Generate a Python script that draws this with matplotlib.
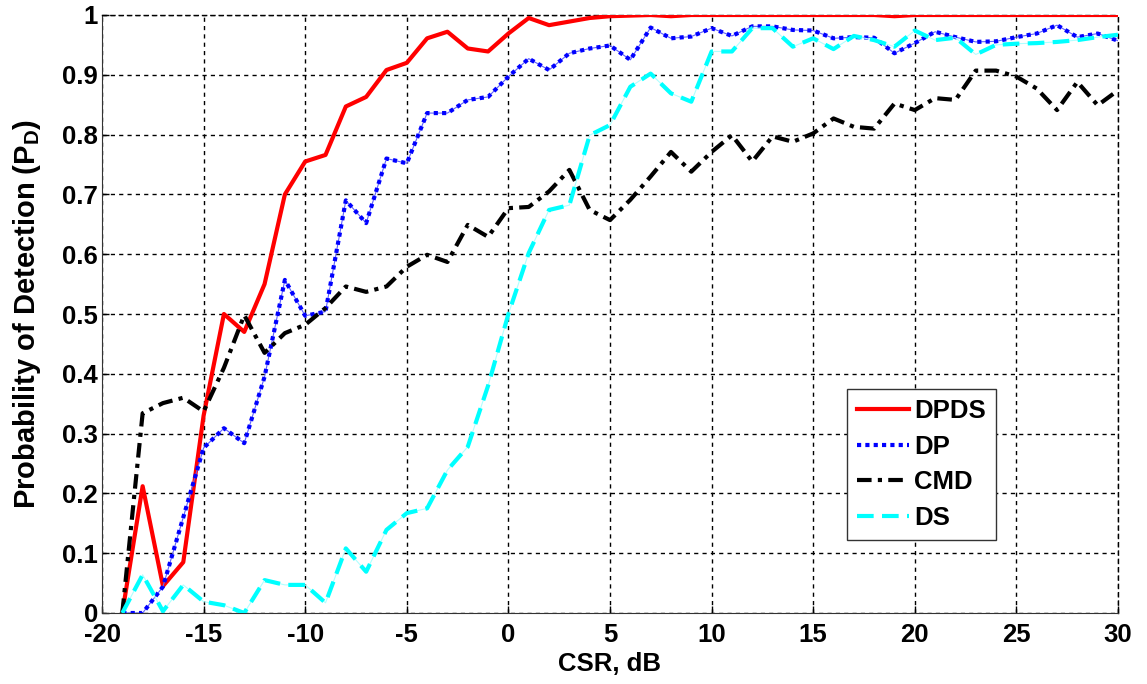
import numpy as np
import matplotlib
matplotlib.use("Agg")
import matplotlib.pyplot as plt

plt.rcParams['font.family'] = ['Liberation Sans', 'DejaVu Sans']
plt.rcParams['font.weight'] = 'bold'
plt.rcParams['axes.labelweight'] = 'bold'
plt.rcParams['axes.unicode_minus'] = False
plt.rcParams['mathtext.fontset'] = 'custom'
plt.rcParams['mathtext.bf'] = 'Liberation Sans:bold'
plt.rcParams['mathtext.rm'] = 'Liberation Sans:bold'

# CSR axis (dB)
csr = list(range(-19, 31))

# Probability of detection
pd_dpds = [0.0, 0.212, 0.045, 0.085, 0.33, 0.50, 0.47, 0.55, 0.70, 0.755,
           0.766, 0.847, 0.863, 0.908, 0.92, 0.961, 0.972, 0.944, 0.939, 0.969,
           0.995, 0.983, 0.989, 0.995, 0.998, 0.999, 1.0, 0.998, 1.0, 1.0,
           1.0, 1.0, 1.0, 1.0, 1.0, 1.0, 1.0, 1.0, 0.998, 1.0,
           1.0, 1.0, 1.0, 1.0, 1.0, 1.0, 1.0, 1.0, 1.0, 1.0]
pd_dp = [0.0, 0.0, 0.044, 0.16, 0.276, 0.309, 0.284, 0.395, 0.557, 0.497,
         0.504, 0.69, 0.652, 0.76, 0.752, 0.836, 0.836, 0.858, 0.863, 0.897,
         0.927, 0.908, 0.936, 0.944, 0.949, 0.925, 0.979, 0.961, 0.964, 0.978,
         0.965, 0.981, 0.981, 0.975, 0.974, 0.961, 0.963, 0.962, 0.936, 0.953,
         0.972, 0.963, 0.955, 0.956, 0.963, 0.969, 0.983, 0.963, 0.969, 0.957]
pd_cmd = [0.0, 0.334, 0.351, 0.36, 0.337, 0.41, 0.498, 0.435, 0.468, 0.482,
          0.51, 0.546, 0.537, 0.546, 0.579, 0.599, 0.587, 0.649, 0.629, 0.677,
          0.679, 0.705, 0.741, 0.674, 0.657, 0.691, 0.730, 0.771, 0.738, 0.771,
          0.799, 0.755, 0.797, 0.788, 0.802, 0.827, 0.813, 0.810, 0.852, 0.841,
          0.861, 0.858, 0.907, 0.907, 0.897, 0.877, 0.841, 0.888, 0.849, 0.874]
pd_ds = [0.0, 0.064, 0.003, 0.047, 0.019, 0.013, 0.0, 0.055, 0.047, 0.047,
         0.017, 0.108, 0.069, 0.139, 0.167, 0.175, 0.239, 0.278, 0.38, 0.50,
         0.602, 0.674, 0.682, 0.799, 0.816, 0.880, 0.902, 0.869, 0.855, 0.939,
         0.939, 0.978, 0.978, 0.947, 0.961, 0.943, 0.965, 0.958, 0.947, 0.974,
         0.958, 0.962, 0.934, 0.950, 0.952, 0.953, 0.955, 0.958, 0.963, 0.967]

xticks = [-20, -15, -10, -5, 0, 5, 10, 15, 20, 25, 30]
yticks = [0, 0.1, 0.2, 0.3, 0.4, 0.5, 0.6, 0.7, 0.8, 0.9, 1]
ytick_labels = ['0', '0.1', '0.2', '0.3', '0.4', '0.5', '0.6', '0.7', '0.8', '0.9', '1']

fig = plt.figure(figsize=(11.47, 6.84), dpi=100)
ax = fig.add_axes([102/1147, 1-613/684, (1118-102)/1147, (613-15)/684])

ax.plot(csr, pd_dpds, color='red', lw=3, label='DPDS', zorder=3)
ax.plot(csr, pd_dp, color='#6060ff', lw=0.8, zorder=3)
ax.plot(csr, pd_dp, color='blue', lw=3, ls=(0, (1, 1)), label='DP', zorder=3)
ax.plot(csr, pd_cmd, color='black', lw=3, ls=(0, (3.5, 1.5, 1, 1.5)), label='CMD', zorder=3)
ax.plot(csr, pd_ds, color='#b0ffff', lw=0.8, zorder=3)
ax.plot(csr, pd_ds, color='cyan', lw=3, ls=(0, (4, 2)), label='DS', zorder=3)

ax.set_xlim(-20, 30)
ax.set_ylim(0, 1)
ax.set_xticks(xticks)
ax.set_yticks(yticks)
ax.set_yticklabels(ytick_labels)
ax.tick_params(direction='in', length=5, width=1, labelsize=18.5)
ax.tick_params(axis='x', pad=7)
ax.tick_params(axis='y', pad=3)
ax.grid(True, color='black', lw=1, ls=(0, (3, 3)))
for s in ['top', 'right']:
    ax.spines[s].set_linestyle((0, (3, 3)))
    ax.spines[s].set_linewidth(1)
for s in ['left', 'bottom']:
    ax.spines[s].set_color('#333333')

ax.set_xlabel('CSR, dB', fontsize=18.5, labelpad=4)
ax.set_ylabel(r'Probability of Detection (P$_\mathbf{D}$)', fontsize=21, labelpad=14)

leg = ax.legend(loc='upper left', bbox_to_anchor=(847/1147, 1-389/684),
                bbox_transform=fig.transFigure, borderaxespad=0,
                fontsize=18.5, handlelength=2.0, handletextpad=0.2,
                labelspacing=0.45, fancybox=False, framealpha=1,
                edgecolor='#333333', borderpad=0.4)
leg.get_frame().set_linewidth(1)

fig.savefig('out.png', dpi=100)
